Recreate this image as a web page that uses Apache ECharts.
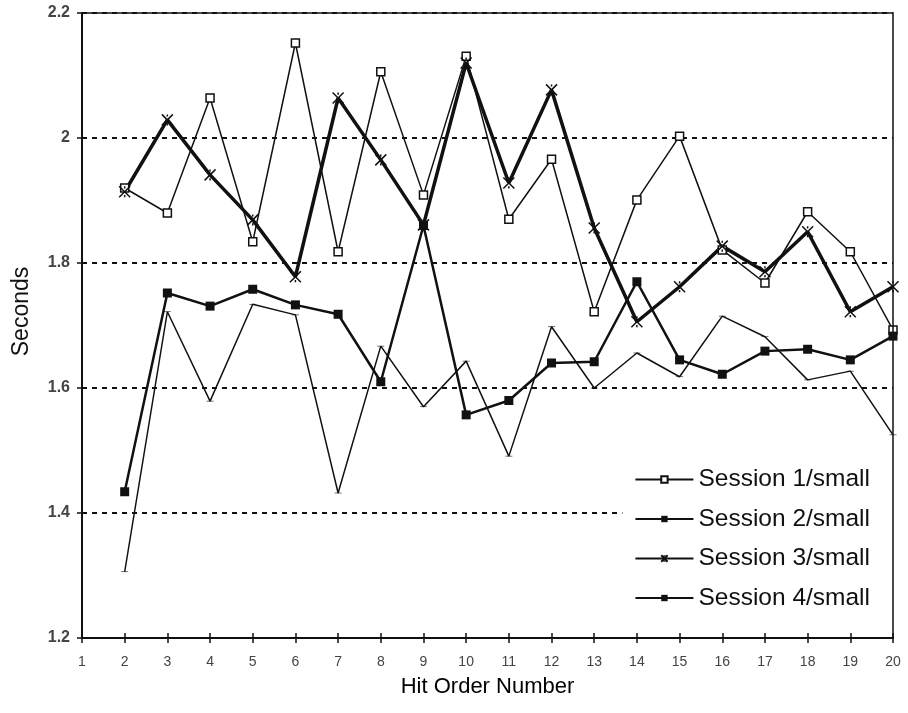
<!DOCTYPE html>
<html>
<head>
<meta charset="utf-8">
<script src="https://cdn.jsdelivr.net/npm/echarts@6/dist/echarts.min.js"></script>
<style>
html,body{margin:0;padding:0;background:#fff;}
#chart{width:908px;height:713px;}
</style>
</head>
<body>
<div id="chart"></div>
<script>
const hits = ['1','2','3','4','5','6','7','8','9','10','11','12','13','14','15','16','17','18','19','20'];
const session1 = [null,1.92,1.88,2.064,1.834,2.152,1.818,2.106,1.909,2.131,1.870,1.966,1.722,1.901,2.003,1.821,1.768,1.882,1.818,1.693];
const session2 = [null,1.434,1.752,1.731,1.758,1.733,1.718,1.610,1.860,1.557,1.580,1.640,1.642,1.770,1.645,1.622,1.659,1.662,1.645,1.683];
const session3 = [null,1.914,2.029,1.941,1.869,1.778,2.064,1.965,1.861,2.120,1.928,2.077,1.856,1.706,1.762,1.827,1.786,1.850,1.722,1.762];
const session4 = [null,1.306,1.722,1.579,1.734,1.717,1.432,1.667,1.570,1.643,1.491,1.698,1.600,1.656,1.618,1.715,1.682,1.613,1.627,1.525];
const seriesNames = ['Session 1/small','Session 2/small','Session 3/small','Session 4/small'];

const font = "'Liberation Sans', Arial, Helvetica, sans-serif";

const chart = echarts.init(document.getElementById('chart'), null, {renderer:'canvas'});
chart.setOption({
  animation: false,
  backgroundColor: '#fff',
  grid: {left: 82, right: 15, top: 13, bottom: 75, show: true, borderColor: '#111', borderWidth: 1.5, backgroundColor: 'transparent', z: 10},
  legend: {
    orient: 'vertical', right: 15, top: 463, z: 5,
    backgroundColor: '#fff', padding: [4, 23, 4, 12],
    itemWidth: 58, itemHeight: 8, itemGap: 14.5,
    textStyle: {fontSize: 24.5, color: '#111', fontFamily: font},
    data: seriesNames
  },
  xAxis: [{
    type: 'category', data: hits, boundaryGap: false,
    name: 'Hit Order Number', nameLocation: 'middle', nameGap: 38,
    nameTextStyle: {fontSize: 22, color: '#000', fontFamily: font},
    axisLine: {lineStyle: {color: '#111', width: 2}},
    axisTick: {show: true, length: 5, lineStyle: {color: '#111', width: 1.5}},
    axisLabel: {fontSize: 14, color: '#444', margin: 17, fontFamily: font},
    splitLine: {show: false}
  }, {
    type: 'category', data: hits, boundaryGap: false, position: 'bottom',
    axisLine: {show: false},
    axisTick: {show: true, inside: true, length: 5, lineStyle: {color: '#111', width: 1.5}},
    axisLabel: {show: false},
    splitLine: {show: false}
  }],
  yAxis: [{
    type: 'value', min: 1.2, max: 2.2, interval: 0.2,
    name: 'Seconds', nameLocation: 'middle', nameGap: 49,
    nameTextStyle: {fontSize: 23, color: '#111', fontFamily: font, padding: [0, 0, 0, 28]},
    axisLine: {show: true, lineStyle: {color: '#111', width: 2}},
    axisTick: {show: true, length: 5, lineStyle: {color: '#111', width: 1.5}},
    axisLabel: {fontSize: 16, fontWeight: 'bold', color: '#444', margin: 12, fontFamily: font,
      formatter: v => (Math.round(v*10)/10).toString()},
    splitLine: {show: true, lineStyle: {color: '#111', width: 2, type: [5, 5]}}
  }, {
    type: 'value', min: 1.2, max: 2.2, interval: 0.2, position: 'left',
    axisLine: {show: false},
    axisTick: {show: true, inside: true, length: 5, lineStyle: {color: '#111', width: 1.5}},
    axisLabel: {show: false},
    splitLine: {show: false}
  }],
  series: [
    {name: seriesNames[0], type: 'line', data: session1,
     symbol: 'rect', symbolSize: 8,
     lineStyle: {color: '#111', width: 1.5},
     itemStyle: {color: '#fff', borderColor: '#111', borderWidth: 1.5}},
    {name: seriesNames[1], type: 'line', data: session2,
     symbol: 'rect', symbolSize: 9,
     lineStyle: {color: '#111', width: 2.5},
     itemStyle: {color: '#111', borderColor: '#111', borderWidth: 0}},
    {name: seriesNames[2], type: 'line', data: session3,
     symbol: 'path://M0,0L10,10M10,0L0,10M5,0L5,2M5,8L5,10', symbolSize: 11,
     lineStyle: {color: '#111', width: 3.5},
     itemStyle: {color: '#111', borderColor: '#111', borderWidth: 1.5}},
    {name: seriesNames[3], type: 'line', data: session4,
     symbol: 'path://M0,0L10,0L10,3L0,3Z', symbolSize: [7, 2], symbolKeepAspect: true,
     lineStyle: {color: '#111', width: 1.5},
     itemStyle: {color: '#111'}}
  ]
});
</script>
</body>
</html>
